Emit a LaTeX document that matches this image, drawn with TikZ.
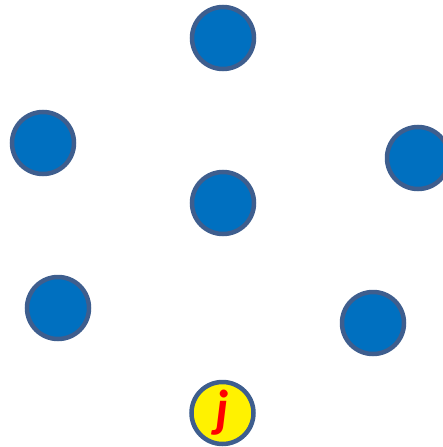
\documentclass[tikz,border=0pt]{standalone}
\usepackage{fontspec}
\newfontfamily\labelfont{Carlito}
\definecolor{nodeblue}{RGB}{0,112,192}
\definecolor{rimblue}{RGB}{62,94,142}
\begin{document}
\begin{tikzpicture}[x=1pt, y=-1pt,
		vertex/.style={circle, draw=rimblue, line width=4.5pt, fill=nodeblue, minimum size=62pt, inner sep=0pt},
		target/.style={vertex, fill=yellow, text=red, font=\labelfont\bfseries\itshape\fontsize{52}{52}\selectfont}]
	% 1. 画布范围
	\useasboundingbox (0,0) rectangle (442,447);
	
	% 2. 蓝色顶点
	\node[vertex] (top)    at (223,38)  {};
	\node[vertex] (left)   at (43,143)  {};
	\node[vertex] (right)  at (418,158) {};
	\node[vertex] (center) at (223,203) {};
	\node[vertex] (lowl)   at (58,308)  {};
	\node[vertex] (lowr)   at (373,323) {};
	
	% 3. 目标顶点 j
	\node[target] (j) at (222.5,413) {j};
\end{tikzpicture}
\end{document}
